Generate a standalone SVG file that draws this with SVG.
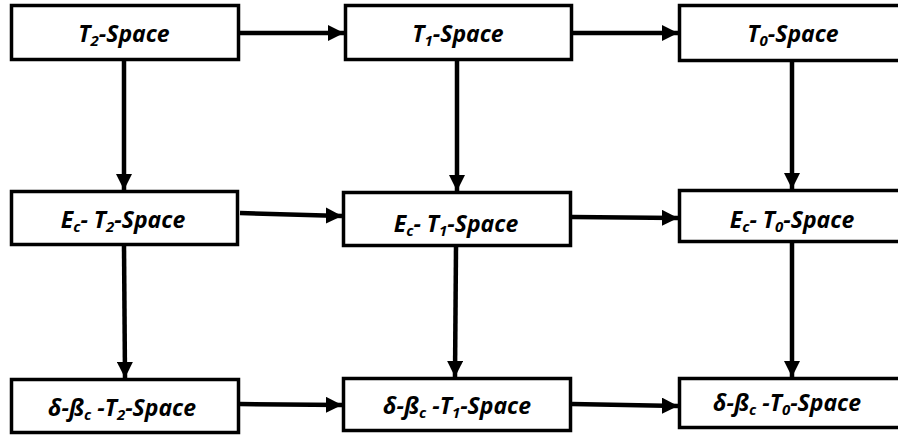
<svg xmlns="http://www.w3.org/2000/svg" width="898" height="436" viewBox="0 0 898 436">
  <style>
    .box { fill: #ffffff; stroke: #000000; stroke-width: 3.5; }
    .lbl { font-family: "Open Sans", "Liberation Sans", sans-serif; font-weight: 700; font-style: italic; font-size: 23px; fill: #000000; text-anchor: middle; }
    .sub { font-size: 15px; }
    .edge { stroke: #000000; stroke-width: 4.5; fill: none; marker-end: url(#arrow); }
  </style>
  <defs>
    <marker id="arrow" markerWidth="3.6" markerHeight="3.6" refX="3.6" refY="1.8" orient="auto" markerUnits="strokeWidth">
      <path d="M0,0 L3.6,1.8 L0,3.6 Z" fill="#000000"/>
    </marker>
  </defs>

  <!-- connectors -->
  <g id="connectors">
    <line class="edge" x1="240" y1="33" x2="344" y2="33"/>
    <line class="edge" x1="573" y1="33" x2="678" y2="33"/>
    <line class="edge" x1="240" y1="213" x2="342" y2="216"/>
    <line class="edge" x1="572" y1="217" x2="678" y2="218"/>
    <line class="edge" x1="240" y1="404" x2="342" y2="405"/>
    <line class="edge" x1="572" y1="404" x2="678" y2="406"/>
    <line class="edge" x1="124" y1="61" x2="124" y2="190"/>
    <line class="edge" x1="124" y1="246" x2="125" y2="378"/>
    <line class="edge" x1="457" y1="61" x2="457" y2="191"/>
    <line class="edge" x1="456" y1="247" x2="455" y2="377"/>
    <line class="edge" x1="792" y1="62" x2="792" y2="189"/>
    <line class="edge" x1="792" y1="243" x2="792" y2="377"/>
  </g>

  <!-- row 1 -->
  <g id="t2-space">
    <rect class="box" x="11.5" y="5.5" width="227" height="54"/>
    <text class="lbl" x="124" y="42">T<tspan class="sub" dy="4">2</tspan><tspan dy="-4">-Space</tspan></text>
  </g>
  <g id="t1-space">
    <rect class="box" x="345.5" y="5.5" width="226" height="54"/>
    <text class="lbl" x="458" y="42">T<tspan class="sub" dy="4">1</tspan><tspan dy="-4">-Space</tspan></text>
  </g>
  <g id="t0-space">
    <rect class="box" x="679.5" y="5.5" width="230" height="55"/>
    <text class="lbl" x="793" y="42">T<tspan class="sub" dy="4">0</tspan><tspan dy="-4">-Space</tspan></text>
  </g>

  <!-- row 2 -->
  <g id="ec-t2-space">
    <rect class="box" x="11.5" y="191.5" width="226" height="53"/>
    <text class="lbl" x="123" y="228">E<tspan class="sub" dy="4">c</tspan><tspan dy="-4">- T</tspan><tspan class="sub" dy="4">2</tspan><tspan dy="-4">-Space</tspan></text>
  </g>
  <g id="ec-t1-space">
    <rect class="box" x="343.5" y="192.5" width="227" height="53"/>
    <text class="lbl" x="456" y="232">E<tspan class="sub" dy="4">c</tspan><tspan dy="-4">- T</tspan><tspan class="sub" dy="4">1</tspan><tspan dy="-4">-Space</tspan></text>
  </g>
  <g id="ec-t0-space">
    <rect class="box" x="679.5" y="190.5" width="230" height="51"/>
    <text class="lbl" x="792" y="228">E<tspan class="sub" dy="4">c</tspan><tspan dy="-4">- T</tspan><tspan class="sub" dy="4">0</tspan><tspan dy="-4">-Space</tspan></text>
  </g>

  <!-- row 3 -->
  <g id="db-t2-space">
    <rect class="box" x="11.5" y="379.5" width="227" height="53"/>
    <text class="lbl" x="122" y="416">δ-ß<tspan class="sub" dy="4">c</tspan><tspan dy="-4"> -T</tspan><tspan class="sub" dy="4">2</tspan><tspan dy="-4">-Space</tspan></text>
  </g>
  <g id="db-t1-space">
    <rect class="box" x="343.5" y="378.5" width="227" height="52"/>
    <text class="lbl" x="457" y="414">δ-ß<tspan class="sub" dy="4">c</tspan><tspan dy="-4"> -T</tspan><tspan class="sub" dy="4">1</tspan><tspan dy="-4">-Space</tspan></text>
  </g>
  <g id="db-t0-space">
    <rect class="box" x="679.5" y="378.5" width="230" height="49"/>
    <text class="lbl" x="787" y="411">δ-ß<tspan class="sub" dy="4">c</tspan><tspan dy="-4"> -T</tspan><tspan class="sub" dy="4">0</tspan><tspan dy="-4">-Space</tspan></text>
  </g>
</svg>
